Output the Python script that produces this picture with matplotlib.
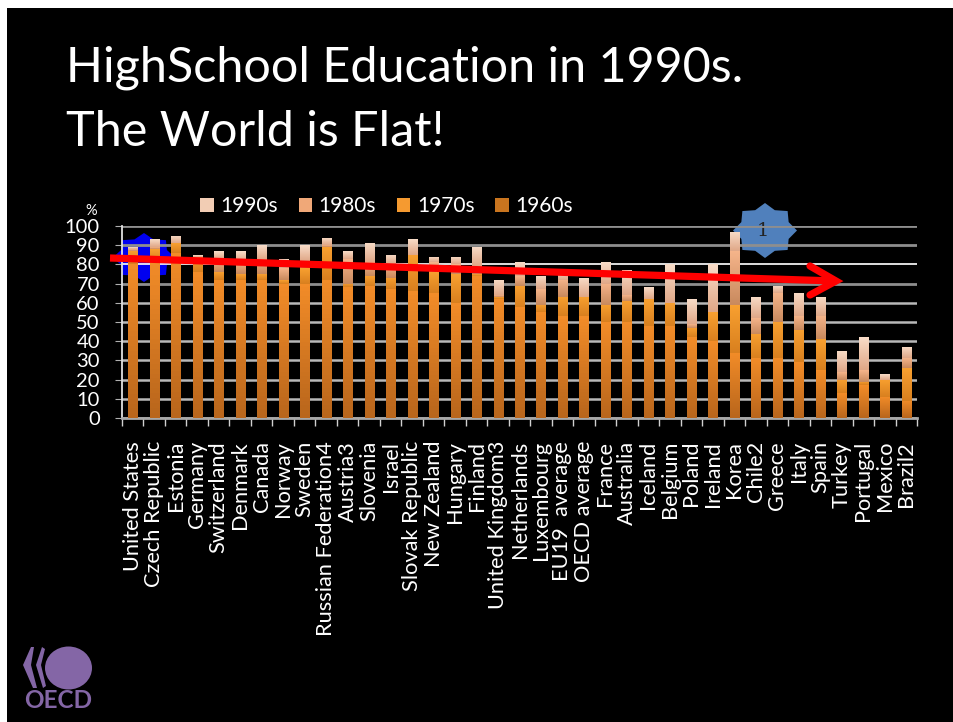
import numpy as np
import matplotlib
matplotlib.use("Agg")
import matplotlib.pyplot as plt
from matplotlib.colors import LinearSegmentedColormap
from matplotlib.patches import Polygon, Ellipse

W, H = 954, 722

# --- Data ---
countries = [
    "United States", "Czech Republic", "Estonia", "Germany", "Switzerland",
    "Denmark", "Canada", "Norway", "Sweden", "Russian Federation4", "Austria3",
    "Slovenia", "Israel", "Slovak Republic", "New Zealand", "Hungary", "Finland",
    "United Kingdom3", "Netherlands", "Luxembourg", "EU19  average",
    "OECD average", "France", "Australia", "Iceland", "Belgium", "Poland",
    "Ireland", "Korea", "Chile2", "Greece", "Italy", "Spain", "Turkey",
    "Portugal", "Mexico", "Brazil2",
]
# cumulative height reached by each decade group
top_1960s = [80, 82, 86, 76, 72, 72, 72, 70, 70, 72, 68, 69, 67, 66, 65, 60, 74,
             62, 58, 55, 53, 53, 50, 50, 48, 48, 42, 40, 34, 31, 31, 29, 25, 13,
             17, 11, 9]
top_1970s = [87, 88, 91, 84, 76, 75, 75, 72, 78, 89, 70, 74, 73, 85, 76, 75, 75,
             63, 69, 59, 63, 63, 59, 61, 62, 60, 47, 55, 59, 44, 50, 46, 41, 20,
             19, 20, 26]
top_1980s = [88, 89, 91, 84, 83, 82, 83, 78, 82, 90, 83, 81, 80, 85, 81, 80, 79,
             64, 74, 67, 72, 63, 70, 64, 62, 60, 49, 55, 87, 52, 65, 53, 53, 24,
             25, 20, 31]
top_1990s = [89, 93, 95, 85, 87, 87, 90, 83, 90, 94, 87, 91, 85, 93, 84, 84, 89,
             72, 81, 74, 77, 73, 81, 77, 68, 80, 62, 80, 97, 63, 69, 65, 63, 35,
             42, 23, 37]

decades = ["1960s", "1970s", "1980s", "1990s"]
decade_tops = [top_1960s, top_1970s, top_1980s, top_1990s]
swatch_colors = ["#C9751F", "#F59A30", "#F0A878", "#F2CDB4"]
# (bottom, top) colours of the glossy fill in each segment
fill_colors = [("#B9661C", "#F28C28"), ("#D9801F", "#F8A030"),
               ("#C98A5E", "#F5B48A"), ("#E0A888", "#F8DCC8")]
y_ticks = list(range(0, 101, 10))

plt.rcParams["font.family"] = ["Lato", "DejaVu Sans"]
fig = plt.figure(figsize=(W / 100, H / 100), dpi=100, facecolor="white")


def px_axes(zorder):
    a = fig.add_axes([0, 0, 1, 1], zorder=zorder)
    a.set_xlim(0, W)
    a.set_ylim(H, 0)
    a.axis("off")
    a.patch.set_alpha(0)
    return a


def star(cx, cy, rx, ry, inner=0.8, n=8):
    pts = []
    for i in range(2 * n):
        r = 1 if i % 2 == 0 else inner
        t = np.radians(90 + i * 180 / n)
        pts.append((cx + rx * r * np.cos(t), cy - ry * r * np.sin(t)))
    return pts


# --- Slide background, stars sit behind the chart ---
back = px_axes(0)
back.add_patch(plt.Rectangle((7, 8), W - 7, H - 8, color="black", lw=0))
back.add_patch(Polygon(star(144, 257.5, 31, 24.5), color="#0000F0", lw=0))
back.add_patch(Polygon(star(765, 230.5, 32, 27.5), color="#5080BC", lw=0))
back.text(763, 231, "1", color="#222222", fontsize=14, family="DejaVu Serif",
          ha="center", va="center")

back.text(66, 82, "HighSchool Education in 1990s.", color="white", fontsize=34.9,
          ha="left", va="baseline")
back.text(66, 146, "The World is Flat!", color="white", fontsize=34.9,
          ha="left", va="baseline")

# --- Chart ---
ax = fig.add_axes([122 / W, 1 - 418 / H, (917 - 122) / W, (418 - 226) / H], zorder=1)
ax.patch.set_alpha(0)
x = np.arange(len(countries))
ax.set_axisbelow(True)
ax.set_yticks(y_ticks)
ax.yaxis.grid(True, color="#B8B8B8", lw=1.8)

bottoms = np.zeros(len(countries))
for tops, swatch, fill, name in zip(decade_tops, swatch_colors, fill_colors, decades):
    heights = np.array(tops) - bottoms
    bars = ax.bar(x, heights, bottom=bottoms, width=0.42, color=swatch, label=name,
                  lw=0, zorder=2)
    cmap = LinearSegmentedColormap.from_list(name, list(fill))
    for b in bars:
        if b.get_height() <= 0:
            continue
        im = ax.imshow(np.linspace(1, 0, 32).reshape(-1, 1), cmap=cmap, aspect="auto",
                       extent=(b.get_x(), b.get_x() + b.get_width(), b.get_y(),
                               b.get_y() + b.get_height()), zorder=3)
        im.set_clip_path(b)
    bottoms = np.array(tops, dtype=float)

ax.set_xlim(-0.5, len(countries) - 0.5)
ax.set_ylim(0, 100)

# grid lines 100, 90, 70 come out darker and 80 brighter in the reference
for tick_val, line in zip(y_ticks, ax.get_ygridlines()):
    if tick_val in (90, 100, 70):
        line.set_color("#8E8E8E")
        line.set_linewidth(2)
    elif tick_val == 80:
        line.set_color("#F0F0F0")
        line.set_linewidth(1.3)

for s in ["top", "right"]:
    ax.spines[s].set_visible(False)
ax.spines["left"].set_color("#E0E0E0")
ax.spines["left"].set_linewidth(1.3)
ax.spines["bottom"].set_color("#A8A8A8")
ax.spines["bottom"].set_linewidth(2)

ax.set_xticks(np.arange(len(countries) + 1) - 0.5, minor=False)
ax.set_xticklabels([])
ax.set_xticks(x, minor=True)
ax.set_xticklabels(countries, minor=True, rotation=90, color="white", fontsize=15.7)
ax.tick_params(axis="x", which="minor", length=0, pad=16.5)
ax.tick_params(axis="x", which="major", color="#D0D0D0", length=5.5, width=1)
ax.tick_params(axis="y", labelsize=14.5, length=5, color="#B0B0B0", pad=11)
for lab in ax.get_yticklabels():
    lab.set_color("white")

ax.legend(loc="lower left", bbox_to_anchor=(76 / 795, 1.041), ncol=4, frameon=False,
          fontsize=15, labelcolor="white", handlelength=0.65, handleheight=0.65,
          columnspacing=1.0, handletextpad=0.31, reverse=True, borderpad=0.1,
          borderaxespad=0)
ax.text(-0.039, 1.04, "%", transform=ax.transAxes, color="white", fontsize=10.5,
        ha="center", va="bottom")

# --- Red trend arrow on top ---
over = px_axes(2)
over.plot([110, 836], [258, 281], color="#FF0000", lw=5.2, solid_capstyle="butt")
over.plot([810, 836, 810], [266, 281, 295], color="#FF0000", lw=5.2,
          solid_capstyle="round", solid_joinstyle="miter")

# --- OECD logo ---
purple = "#8466A6"
over.add_patch(Ellipse((68.5, 668), 47, 43, color=purple, lw=0))
over.add_patch(Polygon([(31, 647), (23, 665), (33, 688), (37, 688), (31, 665), (34, 647)],
                       color=purple, lw=0))
over.add_patch(Polygon([(42, 647), (36, 665), (43, 688), (46, 686), (41, 665), (45, 649)],
                       color=purple, lw=0))
over.text(58, 701, "OECD", color=purple, fontsize=17.5, ha="center", va="center",
          fontweight="bold")

fig.savefig("out.png", dpi=100, facecolor="white")
